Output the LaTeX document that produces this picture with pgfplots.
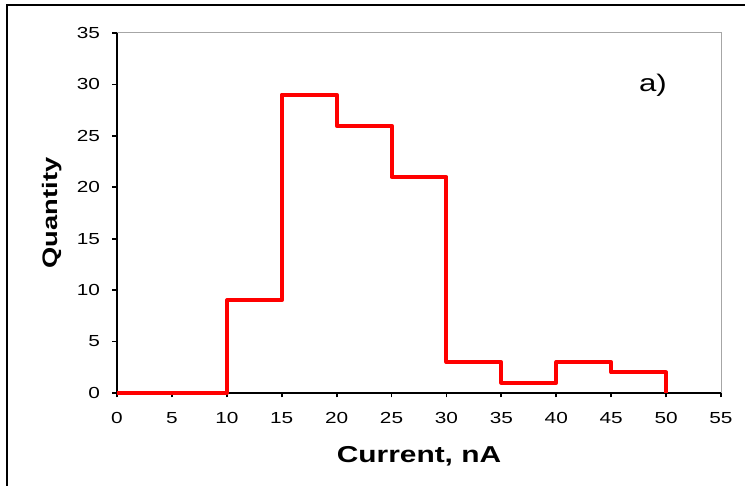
\documentclass[border=0pt]{standalone}
\usepackage{fontspec}
\setmainfont{Liberation Sans}[FakeStretch=1.3]
\usepackage{pgfplots}
\pgfplotsset{compat=1.18}
\begin{document}
\begin{tikzpicture}[x=1pt,y=1pt]
\useasboundingbox (0,0) rectangle (745,486);
\draw[line width=2pt] (7,0) -- (7,481) -- (745,481);
\begin{axis}[
  at={(117pt,93pt)}, anchor=south west,
  scale only axis, width=604pt, height=360pt,
  xmin=0, xmax=55, ymin=0, ymax=35,
  xtick={0,5,...,55}, ytick={0,5,...,35},
  axis x line*=bottom, axis y line*=left,
  axis line style={line width=2.6pt, -},
  tick style={black, line width=1.8pt},
  tick align=outside, major tick length=4.5pt,
  /pgf/number format/assume math mode=true,
  ticklabel style={font=\fontsize{16}{19}\selectfont},
  xticklabel shift=11pt, yticklabel shift=9pt,
  xlabel={Current, nA}, ylabel={Quantity},
  xlabel style={at={(axis description cs:0.5,-0.175)}, anchor=center,
    font=\fontsize{23}{27}\selectfont\bfseries},
  ylabel style={at={(axis description cs:-0.1076,0.5)}, anchor=center,
    font=\fontsize{21}{24}\selectfont\bfseries},
  clip=false,
]
\draw[gray!70, line width=1pt] (rel axis cs:0,1) -- (rel axis cs:1,1) -- (rel axis cs:1,0);
\addplot[const plot, red, line width=4pt, line join=round] coordinates {
  (0,0) (10,9) (15,29) (20,26) (25,21) (30,3) (35,1) (40,3) (45,2) (50,0)
};
\node[font=\fontsize{24}{28}\selectfont] at (axis cs:48.8,29.9) {a)};
\end{axis}
\end{tikzpicture}
\end{document}
